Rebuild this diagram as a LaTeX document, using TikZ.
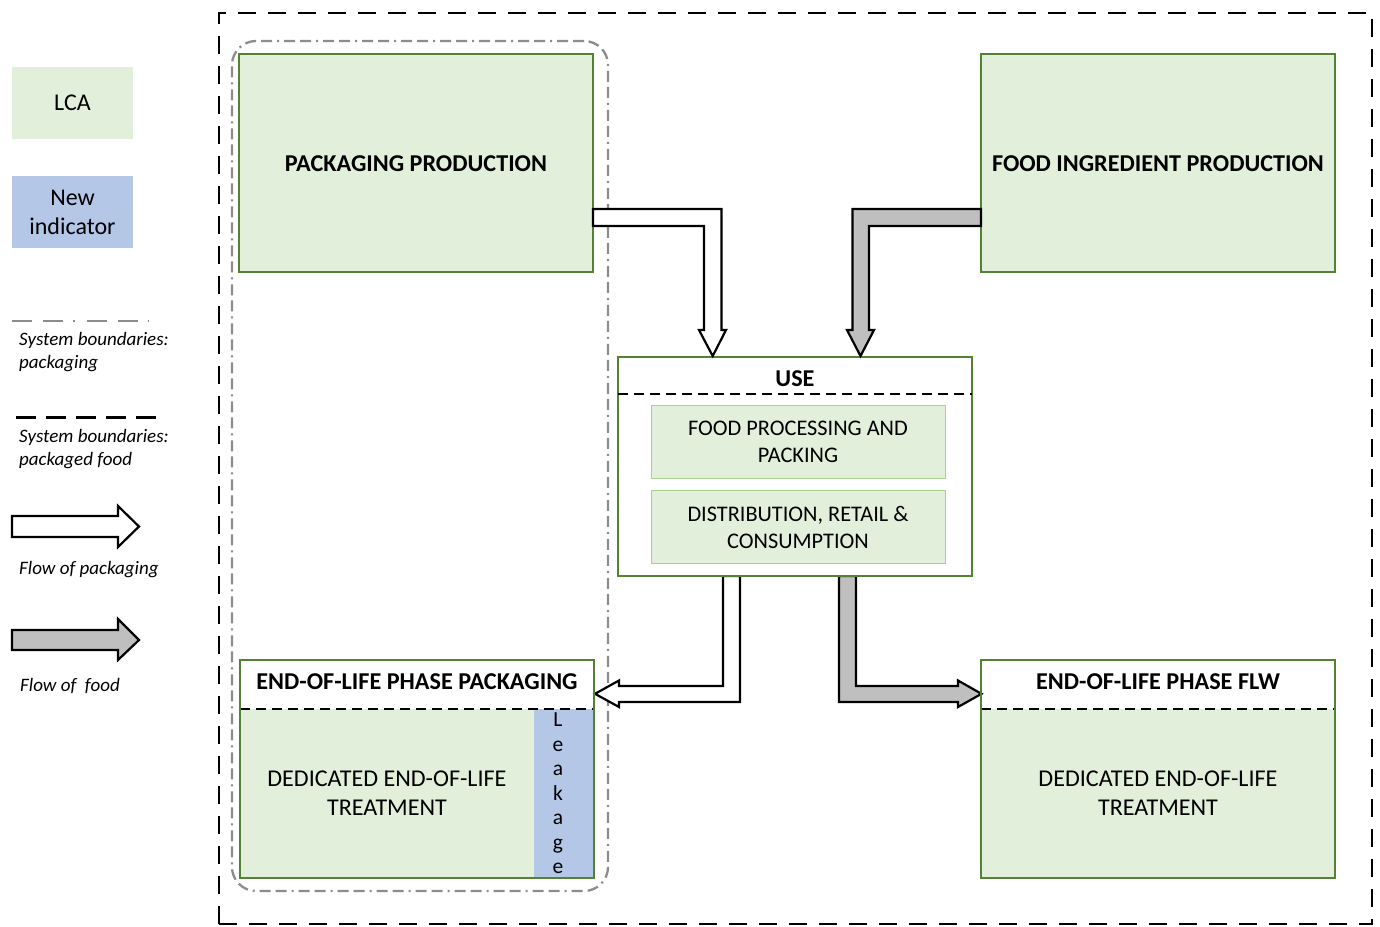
\documentclass[tikz,border=0pt]{standalone}
\usepackage{fontspec}
\setmainfont{Carlito}
\definecolor{lcagreen}{HTML}{E2EFDA}
\definecolor{boxgreen}{HTML}{548235}
\definecolor{innergreen}{HTML}{A9D18E}
\definecolor{newblue}{HTML}{B4C7E7}
\definecolor{bndgray}{HTML}{8C8C8C}
\definecolor{flowgray}{HTML}{BFBFBF}
\begin{document}
\begin{tikzpicture}[x=1pt,y=-1pt,
  txt/.style={font=\fontsize{24.1}{29}\selectfont, align=center, inner sep=0pt},
  ttl/.style={font=\fontsize{24.2}{29}\selectfont\bfseries, inner sep=0pt},
  legtxt/.style={font=\fontsize{19}{23}\selectfont\itshape, align=left, anchor=west, inner sep=0pt},
  greenbox/.style={draw=boxgreen, line width=2.5pt, fill=lcagreen, inner sep=0pt, outer sep=0pt},
  framebox/.style={draw=boxgreen, line width=2.5pt, inner sep=0pt, outer sep=0pt},
  innerbox/.style={draw=innergreen, line width=1pt, fill=lcagreen, inner sep=0pt, outer sep=0pt,
    minimum width=294pt, minimum height=73pt, font=\fontsize{22.3}{27}\selectfont, align=center},
  legbox/.style={inner sep=0pt, minimum width=121pt, minimum height=72pt, font=\fontsize{24}{29}\selectfont, align=center},
  foodbnd/.style={draw=black, line width=2.5pt, dash pattern=on 18pt off 12pt},
  legfoodbnd/.style={draw=black, line width=3pt, dash pattern=on 20pt off 10pt},
  packbnd/.style={draw=bndgray, line width=2.3pt, dash pattern=on 11pt off 5pt on 11pt off 5pt on 2pt off 5pt},
  legpackbnd/.style={draw=bndgray, line width=2.5pt, dash pattern=on 20pt off 11pt on 20pt off 10pt on 1.5pt off 12pt},
  hdrline/.style={draw=black, line width=1.5pt, dash pattern=on 10pt off 6pt},
  packflow/.style={draw=black, line width=2.2pt, fill=white, line join=miter},
  foodflow/.style={draw=black, line width=2.2pt, fill=flowgray, line join=miter}
]
\useasboundingbox (0,0) rectangle (1380,926);

% ---------- legend ----------
\node[legbox, fill=lcagreen] (lca) at (72.5,103) {LCA};
\node[legbox, fill=newblue] (newind) at (72.5,212) {New\\indicator};

\coordinate (pbA) at (12,321);
\coordinate (pbB) at (150,321);
\draw[legpackbnd] (pbA) -- (pbB);
\node[legtxt] (pbtxt) at (19,352) {System boundaries:\\packaging};

\coordinate (fbA) at (16,417);
\coordinate (fbB) at (160,417);
\draw[legfoodbnd] (fbA) -- (fbB);
\node[legtxt] (fbtxt) at (19,449) {System boundaries:\\packaged food};

\draw[packflow] (12,516) -- (118,516) -- (118,506) -- (139,526.5) -- (118,547) -- (118,537) -- (12,537) -- cycle;
\node[legtxt] (pftxt) at (19,569.5) {Flow of packaging};

\draw[foodflow] (12,630) -- (118,630) -- (118,619) -- (139,640) -- (118,660) -- (118,650) -- (12,650) -- cycle;
\node[legtxt] (fftxt) at (20,686.5) {Flow of\ \ food};

% ---------- system boundaries ----------
\node[foodbnd, minimum width=1153pt, minimum height=911pt, inner sep=0pt, outer sep=0pt] (sysfood) at (795.5,468.5) {};
\node[packbnd, rounded corners=24pt, minimum width=376pt, minimum height=850pt, inner sep=0pt, outer sep=0pt] (syspack) at (420,466) {};

% ---------- production boxes ----------
\node[greenbox, minimum width=354pt, minimum height=218pt] (pp) at (416,163) {};
\node[ttl] at (416,164) {PACKAGING PRODUCTION};
\node[greenbox, minimum width=354pt, minimum height=218pt] (fip) at (1158,163) {};
\node[ttl] at (1158,164) {FOOD INGREDIENT PRODUCTION};

% ---------- bottom flows (under USE border) ----------
\draw[packflow] (723,576) -- (723,686) -- (619,686) -- (619,680.5) -- (595,693.8) -- (619,707) -- (619,702) -- (740,702) -- (740,576) -- cycle;
\draw[foodflow] (839,576) -- (839,702) -- (958,702) -- (958,707) -- (981.5,693.8) -- (958,680.5) -- (958,686) -- (856,686) -- (856,576) -- cycle;

% ---------- USE ----------
\node[framebox, fill=white, minimum width=354pt, minimum height=219pt] (use) at (795,466.5) {};
\node[ttl] (usettl) at (795,379) {USE};
\draw[hdrline] (618,394) -- (972,394);
\node[innerbox] (fpp) at (798,442) {FOOD PROCESSING AND\\PACKING};
\node[innerbox] (drc) at (798,527) {DISTRIBUTION, RETAIL \&\\CONSUMPTION};

% ---------- top flows ----------
\draw[packflow] (593,209) -- (721.5,209) -- (721.5,330) -- (726,330) -- (712.7,356) -- (699,330) -- (704,330) -- (704,226) -- (593,226) -- cycle;
\draw[foodflow] (981,209) -- (852.5,209) -- (852.5,330) -- (847,330) -- (860.5,356) -- (874,330) -- (869,330) -- (869,226) -- (981,226) -- cycle;

% ---------- EOL packaging ----------
\fill[lcagreen] (240,709) rectangle (594,878);
\node[fill=newblue, inner sep=0pt, outer sep=0pt, minimum width=60pt, minimum height=169pt] (leak) at (564,793.5) {};
\node[font=\fontsize{21.5}{24.5}\selectfont, align=center, inner sep=0pt] (leaktxt) at (558,793.5) {L\\e\\a\\k\\a\\g\\e};
\draw[hdrline] (240,709) -- (594,709);
\node[framebox, minimum width=354pt, minimum height=218pt] (eolp) at (417,769) {};
\node[ttl] (eolpttl) at (417,682) {END-OF-LIFE PHASE PACKAGING};
\node[txt] (eolptxt) at (387,793.5) {DEDICATED END-OF-LIFE\\TREATMENT};

% ---------- EOL FLW ----------
\fill[lcagreen] (981,709) rectangle (1335,878);
\draw[hdrline] (981,709) -- (1335,709);
\node[framebox, minimum width=354pt, minimum height=218pt] (eolf) at (1158,769) {};
\node[ttl] (eolfttl) at (1158,682) {END-OF-LIFE PHASE FLW};
\node[txt] (eolftxt) at (1158,793.5) {DEDICATED END-OF-LIFE\\TREATMENT};
\end{tikzpicture}
\end{document}
